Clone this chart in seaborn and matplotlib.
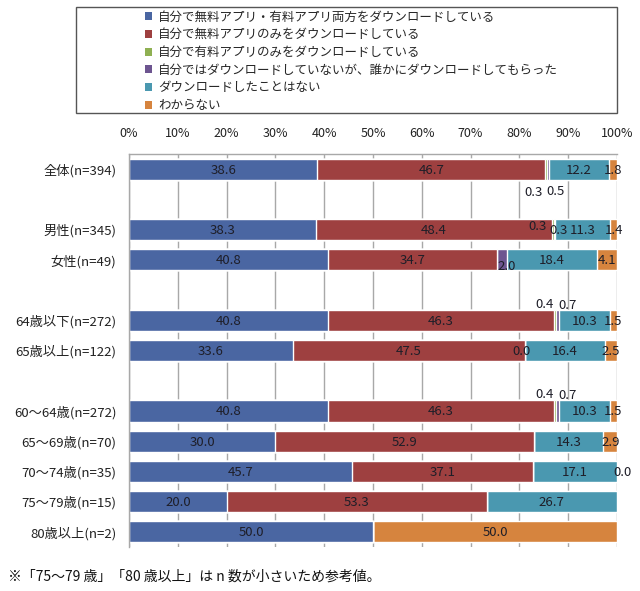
import numpy as np
import pandas as pd
import matplotlib
matplotlib.use("Agg")
import matplotlib.pyplot as plt
from matplotlib.patches import Patch, Rectangle
import seaborn as sns


# Data

categories = ["全体(n=394)", " ", "男性(n=345)", "女性(n=49)", "  ",
              "64歳以下(n=272)", "65歳以上(n=122)", "   ",
              "60～64歳(n=272)", "65～69歳(n=70)", "70～74歳(n=35)",
              "75～79歳(n=15)", "80歳以上(n=2)"]

rows = ["全体(n=394)", "男性(n=345)", "女性(n=49)",
        "64歳以下(n=272)", "65歳以上(n=122)",
        "60～64歳(n=272)", "65～69歳(n=70)", "70～74歳(n=35)",
        "75～79歳(n=15)", "80歳以上(n=2)"]

names = ["自分で無料アプリ・有料アプリ両方をダウンロードしている",
         "自分で無料アプリのみをダウンロードしている",
         "自分で有料アプリのみをダウンロードしている",
         "自分ではダウンロードしていないが、誰かにダウンロードしてもらった",
         "ダウンロードしたことはない",
         "わからない"]

both      = [38.6, 38.3, 40.8, 40.8, 33.6, 40.8, 30.0, 45.7, 20.0, 50.0]
free_only = [46.7, 48.4, 34.7, 46.3, 47.5, 46.3, 52.9, 37.1, 53.3, None]
paid_only = [0.3, 0.3, None, 0.4, 0.0, 0.4, None, None, None, None]
by_others = [0.5, 0.3, 2.0, 0.7, None, 0.7, None, None, None, None]
never     = [12.2, 11.3, 18.4, 10.3, 16.4, 10.3, 14.3, 17.1, 26.7, None]
unknown   = [1.8, 1.4, 4.1, 1.5, 2.5, 1.5, 2.9, 0.0, None, 50.0]

colors = ["#4a66a2", "#9e4040", "#8fb052", "#6d5590", "#4a98b0", "#d6843e"]

# label nudges for the thin segments: (row, series index) -> (dx %, dy rows)
nudges = {
    ("全体(n=394)", 2): (-2.6, 0.74), ("全体(n=394)", 3): (1.6, 0.70),
    ("男性(n=345)", 2): (-3.2, -0.13), ("男性(n=345)", 3): (0.9, 0.0),
    ("女性(n=49)", 3): (0.9, 0.2),
    ("64歳以下(n=272)", 2): (-2.1, -0.56), ("64歳以下(n=272)", 3): (2.1, -0.53),
    ("65歳以上(n=122)", 2): (-0.6, 0.0),
    ("60～64歳(n=272)", 2): (-2.1, -0.56), ("60～64歳(n=272)", 3): (2.1, -0.53),
    ("70～74歳(n=35)", 5): (1.3, 0.0),
}

series = [both, free_only, paid_only, by_others, never, unknown]
df = pd.DataFrame({n: pd.to_numeric(pd.Series(s, index=rows), errors="coerce")
                   for n, s in zip(names, series)})
cum = df.fillna(0).cumsum(axis=1)
long = cum.reset_index(names="row").melt(id_vars="row", var_name="answer", value_name="cum")


# Plot

sns.set_theme(style="white")
plt.rcParams["font.family"] = ["Noto Sans CJK JP", "DejaVu Sans"]

fig = plt.figure(figsize=(6.4, 5.91), dpi=100)
ax = fig.add_axes([129/640, 1-547/591, (617-129)/640, (547-154)/591])

# stacked bars drawn as overlapping cumulative bars, longest first
for name, color in reversed(list(zip(names, colors))):
    sns.barplot(data=long[long["answer"] == name], x="cum", y="row",
                order=categories, orient="y", color=color, saturation=1,
                width=0.7, edgecolor="white", linewidth=1, errorbar=None, ax=ax)

pos = {c: i for i, c in enumerate(categories)}
for r in rows:
    for k, n in enumerate(names):
        v = df.loc[r, n]
        if pd.isna(v):
            continue
        x = cum.loc[r, n] - v / 2
        dx, dy = nudges.get((r, k), (0, 0))
        ax.text(x + dx, pos[r] + dy + 0.03, f"{v:.1f}", ha="center", va="center",
                fontsize=9.5, color="#1e1e28")

ax.set_xlim(0, 100)
ax.set_ylim(len(categories) - 0.5, -0.5)
ax.set_xticks(np.arange(0, 101, 10))
ax.set_xticklabels([f"{t}%" for t in range(0, 101, 10)])
ax.xaxis.tick_top()
ax.tick_params(axis="x", length=0, pad=10, labelsize=9, colors="#222222")
ax.tick_params(axis="y", length=0, pad=9, labelsize=9.5, colors="#222222")
ax.set_xlabel("")
ax.set_ylabel("")
ax.set_axisbelow(True)
ax.xaxis.grid(True, color="#a8a8a8", linewidth=1)
ax.yaxis.grid(False)
for side in ["right", "bottom"]:
    ax.spines[side].set_visible(False)
for side in ["top", "left"]:
    ax.spines[side].set_color("#a8a8a8")
    ax.spines[side].set_linewidth(1)

# Legend in its own box
fig.add_artist(Rectangle((76/640, 1-113/591), (617-76)/640, (113-7)/591,
                         transform=fig.transFigure, fill=False,
                         edgecolor="#555555", linewidth=1))
handles = [Patch(facecolor=c, edgecolor="none") for c in colors]
fig.legend(handles, names, loc="upper left", bbox_to_anchor=(142/640, 1-8/591),
           frameon=False, fontsize=9, handlelength=0.6, handleheight=0.6,
           handletextpad=0.5, labelspacing=0.38, borderaxespad=0, borderpad=0.2)

fig.text(8/640, 1-577/591, "※「75～79 歳」「80 歳以上」は n 数が小さいため参考値。",
         fontsize=10, va="center", color="#111111")

fig.savefig("out.png", dpi=100)
